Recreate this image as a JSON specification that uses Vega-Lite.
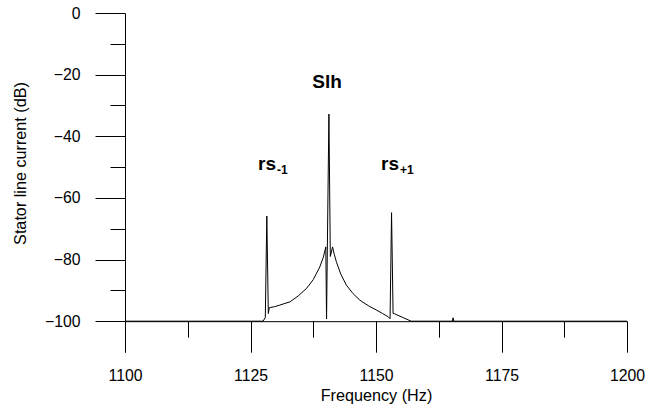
{
  "$schema": "https://vega.github.io/schema/vega-lite/v6.json",
  "width": 502,
  "height": 339,
  "autosize": "none",
  "padding": {"left": 125, "top": 13, "right": 39, "bottom": 58},
  "background": "white",
  "config": {
    "view": {"stroke": null},
    "font": "Liberation Sans",
    "axis": {"grid": false, "domainColor": "#000", "tickColor": "#000", "labelColor": "#000", "titleColor": "#000", "labelFont": "Liberation Sans", "titleFont": "Liberation Sans", "labelFontSize": 15.8, "titleFontSize": 16.2, "titleFontWeight": "normal", "domainWidth": 1, "tickWidth": 1, "labelFlush": false, "labelOverlap": false}
  },
  "datasets": {
    "labels": [
      {"main": "Slh", "sub": "", "f": 1137.3, "v": -24.4},
      {"main": "rs", "sub": "-1", "f": 1126.5, "v": -51},
      {"main": "rs", "sub": "+1", "f": 1151.0, "v": -51}
    ]
  },
  "layer": [
    {
      "data": {"values": [
        {"f": 1100, "v": -100}, {"f": 1127.5, "v": -100}, {"f": 1127.95, "v": -98.8}, {"f": 1128.25, "v": -65.9},
        {"f": 1128.55, "v": -97.5}, {"f": 1128.75, "v": -95.6}, {"f": 1129.8, "v": -95.3}, {"f": 1130.8, "v": -94.8},
        {"f": 1132.9, "v": -93.7}, {"f": 1134.5, "v": -91.8}, {"f": 1136.2, "v": -89.3}, {"f": 1137.5, "v": -86.5},
        {"f": 1138.8, "v": -82.4}, {"f": 1139.5, "v": -79.3}, {"f": 1140.0, "v": -75.9}, {"f": 1140.15, "v": -99.3},
        {"f": 1140.3, "v": -77.5}, {"f": 1140.62, "v": -32.8}, {"f": 1140.9, "v": -79}, {"f": 1141.35, "v": -75.9},
        {"f": 1141.7, "v": -78.4}, {"f": 1142.1, "v": -80.7}, {"f": 1143.0, "v": -84.8}, {"f": 1144.1, "v": -88.3},
        {"f": 1145.4, "v": -91}, {"f": 1146.8, "v": -93.2}, {"f": 1148.5, "v": -95}, {"f": 1150.1, "v": -96.4},
        {"f": 1151.3, "v": -97.5}, {"f": 1152.45, "v": -98.6}, {"f": 1152.8, "v": -99.2}, {"f": 1153.1, "v": -64.8},
        {"f": 1153.4, "v": -97.5}, {"f": 1153.7, "v": -97.6}, {"f": 1155.2, "v": -98.7}, {"f": 1157.0, "v": -100},
        {"f": 1165.2, "v": -100}, {"f": 1165.35, "v": -98.9}, {"f": 1165.5, "v": -100}, {"f": 1200, "v": -100}
      ]},
      "mark": {"type": "line", "color": "#000", "strokeWidth": 1, "clip": true},
      "encoding": {
        "x": {"field": "f", "type": "quantitative", "scale": {"domain": [1100, 1200], "nice": false, "zero": false},
              "axis": {"orient": "bottom", "values": [1100, 1125, 1150, 1175, 1200], "format": "d", "offset": -30.82, "tickSize": 31, "labelPadding": 16, "title": "Frequency (Hz)", "titlePadding": 5}},
        "y": {"field": "v", "type": "quantitative", "scale": {"domain": [-110, 0], "nice": false, "zero": false},
              "axis": {"orient": "left", "values": [0, -20, -40, -60, -80, -100], "tickSize": 30, "labelPadding": 15, "title": "Stator line current (dB)", "titlePadding": 16, "titleY": 150}}
      }
    },
    {
      "data": {"name": "labels"},
      "mark": {"type": "text", "align": "left", "baseline": "alphabetic", "fontSize": 19, "fontWeight": "bold", "color": "#000", "font": "Liberation Sans"},
      "encoding": {
        "x": {"field": "f", "type": "quantitative",
              "axis": {"orient": "bottom", "values": [1112.5, 1137.5, 1162.5, 1187.5], "offset": -30.82, "tickSize": 16, "labels": false, "domain": false, "title": null}},
        "y": {"field": "v", "type": "quantitative",
              "axis": {"orient": "left", "values": [-10, -30, -50, -70, -90], "tickSize": 15, "labels": false, "domain": false, "title": null}},
        "text": {"field": "main"}
      }
    },
    {
      "data": {"name": "labels"},
      "mark": {"type": "text", "align": "left", "baseline": "alphabetic", "fontSize": 12, "fontWeight": "bold", "color": "#000", "dx": 19, "dy": 4, "font": "Liberation Sans"},
      "encoding": {
        "x": {"field": "f", "type": "quantitative", "axis": null},
        "y": {"field": "v", "type": "quantitative", "axis": null},
        "text": {"field": "sub"}
      }
    }
  ],
  "resolve": {"axis": {"x": "independent", "y": "independent"}}
}
